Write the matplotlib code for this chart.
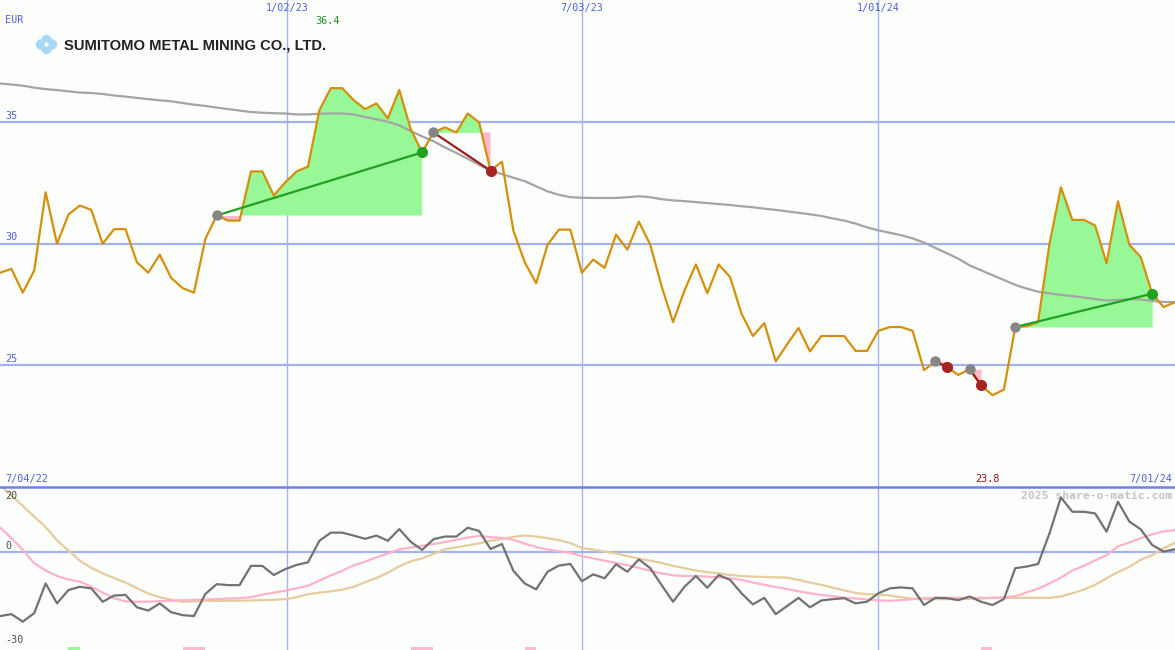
import numpy as np
import pandas as pd
import matplotlib
matplotlib.use("Agg")
import matplotlib.pyplot as plt
import matplotlib.transforms as mtransforms
from matplotlib.patches import Circle, Rectangle

# ---------------- data (weekly) ----------------
price = [28.80, 28.96, 27.98, 28.89, 32.10, 29.99, 31.19, 31.56, 31.38, 29.99,
         30.59, 30.59, 29.23, 28.80, 29.54, 28.59, 28.17, 27.98, 30.19, 31.15,
         30.94, 30.94, 32.96, 32.96, 31.97, 32.51, 32.96, 33.16, 35.48, 36.38,
         36.38, 35.89, 35.52, 35.75, 35.14, 36.31, 34.70, 33.74, 34.56, 34.77,
         34.56, 35.34, 34.97, 32.99, 33.36, 30.53, 29.23, 28.37, 29.95, 30.57,
         30.57, 28.80, 29.34, 29.00, 30.36, 29.75, 30.90, 29.95, 28.24, 26.77,
         28.07, 29.14, 27.96, 29.14, 28.62, 27.12, 26.20, 26.73, 25.16, 25.86,
         26.53, 25.57, 26.20, 26.20, 26.20, 25.59, 25.59, 26.41, 26.57, 26.57,
         26.41, 24.80, 25.16, 24.93, 24.60, 24.84, 24.18, 23.77, 24.00, 26.57,
         26.60, 26.77, 29.99, 32.31, 30.97, 30.97, 30.74, 29.19, 31.73, 29.95,
         29.44, 27.94, 27.39, 27.59]

moving_avg = [36.57, 36.53, 36.48, 36.40, 36.34, 36.30, 36.25, 36.20, 36.18, 36.14,
              36.08, 36.03, 35.98, 35.93, 35.88, 35.84, 35.77, 35.70, 35.65, 35.58,
              35.52, 35.46, 35.40, 35.37, 35.35, 35.34, 35.30, 35.30, 35.33, 35.34,
              35.34, 35.30, 35.20, 35.10, 35.00, 34.85, 34.62, 34.40, 34.20, 33.95,
              33.72, 33.48, 33.23, 32.99, 32.85, 32.70, 32.56, 32.35, 32.14, 32.00,
              31.90, 31.88, 31.87, 31.87, 31.87, 31.90, 31.94, 31.90, 31.82, 31.77,
              31.74, 31.70, 31.66, 31.62, 31.58, 31.53, 31.49, 31.43, 31.38, 31.32,
              31.26, 31.20, 31.13, 31.03, 30.94, 30.82, 30.66, 30.54, 30.44, 30.34,
              30.21, 30.04, 29.82, 29.60, 29.38, 29.10, 28.90, 28.70, 28.50, 28.30,
              28.15, 28.02, 27.95, 27.89, 27.84, 27.78, 27.72, 27.66, 27.68, 27.72,
              27.70, 27.64, 27.60, 27.59]

oscillator = [-19.6, -19.0, -21.3, -18.7, -9.6, -15.7, -11.6, -10.6, -11.1, -15.2,
              -13.3, -13.1, -16.9, -17.9, -15.7, -18.4, -19.3, -19.6, -12.8, -9.8,
              -10.1, -10.1, -4.2, -4.2, -7.0, -5.2, -3.9, -3.1, 3.5, 6.0,
              6.0, 5.1, 4.1, 5.1, 3.5, 7.1, 3.2, 0.7, 4.0, 4.8,
              4.8, 7.5, 6.5, 1.0, 2.5, -5.7, -9.6, -11.4, -6.0, -4.1,
              -3.6, -8.9, -6.8, -8.0, -3.7, -6.0, -2.2, -4.9, -10.1, -15.2,
              -10.6, -7.3, -10.9, -7.0, -8.5, -12.6, -16.0, -14.0, -19.0, -16.5,
              -14.0, -16.9, -14.8, -14.4, -14.1, -15.7, -15.2, -12.6, -11.1, -10.8,
              -11.1, -16.2, -14.0, -14.1, -14.7, -13.6, -15.2, -16.2, -14.4, -4.9,
              -4.4, -3.6, 5.8, 16.8, 12.4, 12.4, 11.9, 6.3, 15.5, 9.4,
              7.0, 2.2, 0.2, 0.9]

osc_fast = [7.6, 4.3, 0.7, -3.4, -5.6, -7.3, -8.4, -9.0, -10.6, -12.4,
            -14.1, -15.1, -15.2, -15.2, -15.0, -14.9, -14.7, -14.6, -14.5, -14.4,
            -14.2, -14.1, -13.8, -13.0, -12.4, -11.8, -11.1, -10.3, -8.7, -7.1,
            -5.7, -4.0, -2.9, -1.6, -0.4, 0.9, 1.4, 2.0, 2.5, 3.1,
            3.8, 4.5, 5.0, 4.6, 4.4, 3.8, 2.6, 1.6, 0.8, 0.3,
            -0.2, -1.2, -1.9, -2.6, -3.3, -4.0, -4.8, -5.7, -6.5, -7.1,
            -7.3, -7.3, -7.5, -7.7, -8.0, -8.5, -9.3, -10.0, -10.7, -11.3,
            -12.0, -12.6, -13.1, -13.5, -13.9, -14.2, -14.5, -14.8, -14.9, -14.7,
            -14.4, -14.1, -14.0, -14.0, -14.0, -14.0, -14.0, -14.0, -13.9, -13.5,
            -12.3, -11.2, -9.6, -7.8, -5.6, -4.2, -2.5, -0.9, 1.8, 3.0,
            4.3, 5.5, 6.4, 6.8]

osc_slow = [20.5, 17.4, 14.2, 10.9, 7.7, 3.6, 0.5, -2.6, -4.8, -6.5,
            -7.9, -9.3, -11.0, -12.7, -13.8, -14.6, -15.2, -15.1, -14.9, -14.9,
            -14.9, -14.9, -14.8, -14.7, -14.6, -14.4, -13.8, -12.9, -12.4, -12.0,
            -11.5, -10.6, -9.2, -7.9, -6.3, -4.3, -2.8, -1.9, -0.5, 0.9,
            1.5, 2.1, 2.7, 3.5, 4.1, 4.7, 5.1, 4.8, 4.3, 3.7,
            2.8, 1.3, 0.8, 0.2, -0.4, -1.2, -2.0, -2.6, -3.3, -4.2,
            -4.9, -5.6, -6.1, -6.5, -7.0, -7.3, -7.5, -7.6, -7.7, -7.8,
            -8.5, -9.3, -10.0, -10.9, -11.7, -12.5, -12.9, -13.0, -13.3, -13.8,
            -14.3, -14.4, -14.4, -14.4, -14.4, -14.3, -14.2, -14.0, -14.0, -14.0,
            -14.0, -14.0, -14.0, -13.6, -12.6, -11.5, -10.0, -8.0, -6.1, -4.5,
            -2.3, -0.9, 1.2, 2.9]

buy_idx = [19, 38, 82, 85, 89]
sell_idx = [37, 43, 83, 86, 101]

signal_spans = [(6, 7, 'buy'), (16, 18, 'sell'), (36, 38, 'sell'), (46, 47, 'sell'), (86, 87, 'sell')]

grid_dates = ['2023-01-03', '2023-07-03', '2024-01-01']
grid_labels = ['1/02/23', '7/03/23', '1/01/24']
start_label, end_label = '7/04/22', '7/01/24'
price_ticks = [25, 30, 35]
osc_ticks = [20, 0, -30]
currency = 'EUR'
title = 'SUMITOMO METAL MINING CO., LTD.'
credit = '2025 share-o-matic.com'

dates = pd.date_range('2022-07-11', periods=len(price), freq='7D')

# ---------------- style ----------------
W, H = 1175, 650
BG = '#fcfefc'
GRID = '#a4b2f2'
SEP = '#7080e8'
LBL = '#5060e0'
PRICE_C = '#d4900a'
MA_C = '#a4a4a4'
FILL_G = '#98f898'
FILL_P = '#ffb8cc'
mono = 'DejaVu Sans Mono'

fig = plt.figure(figsize=(W / 100, H / 100), dpi=100, facecolor=BG)
ax = fig.add_axes([0, 163 / H, 1, 487 / H], facecolor=BG)
ax2 = fig.add_axes([0, 0, 1, 163 / H], facecolor=BG)
for a in (ax, ax2):
    a.set_xlim(dates[0], dates[-1])
    for s in a.spines.values():
        s.set_visible(False)
    a.set_xticks([])
    a.set_yticks([])
ax.set_ylim(20, 40)
ax2.set_ylim(-30, 20)

# grid
for t in price_ticks:
    ax.axhline(t, color=GRID, lw=1.6, zorder=1)
ax2.axhline(0, color=GRID, lw=1.6, zorder=1)
gd = pd.to_datetime(grid_dates)
for d in gd:
    ax.axvline(d, color=GRID, lw=1.0, zorder=1)
    ax2.axvline(d, color=GRID, lw=1.0, zorder=1)
ax2.axhline(20, color=SEP, lw=1.8, zorder=5, clip_on=False)

p = np.array(price)
# trade fills
for b, s in zip(buy_idx, sell_idx):
    xs = dates[b:s + 1]
    ys = p[b:s + 1]
    lvl = p[b]
    ax.fill_between(xs, ys, lvl, where=ys >= lvl, interpolate=True, color=FILL_G, lw=0, zorder=2)
    ax.fill_between(xs, ys, lvl, where=ys <= lvl, interpolate=True, color=FILL_P, lw=0, zorder=2)

ax.plot(dates, moving_avg, color=MA_C, lw=1.6, zorder=3)
ax.plot(dates, price, color=PRICE_C, lw=1.6, zorder=4)

for b, s in zip(buy_idx, sell_idx):
    win = p[s] > p[b]
    c = '#22a022' if win else '#a01c1c'
    ax.plot([dates[b], dates[s]], [p[b], p[s]], color=c, lw=1.6, zorder=5)
    ax.plot(dates[b], p[b], 'o', ms=7.5, color='#858585', mec='none', zorder=6)
    ax.plot(dates[s], p[s], 'o', ms=8, color=('#22a022' if win else '#a82222'), mec='none', zorder=6)

# lower panel
ax2.plot(dates, osc_slow, color='#e4cc9c', lw=1.6, zorder=3)
ax2.plot(dates, osc_fast, color='#ffb2c8', lw=1.6, zorder=3)
ax2.plot(dates, oscillator, color='#727272', lw=1.6, zorder=4)
for a0, a1, kind in signal_spans:
    ax2.fill_between([dates[a0], dates[a1]], -30, -29.1,
                     color=('#98f898' if kind == 'buy' else '#ffb8cc'), lw=0, zorder=2)

# labels
tr_top = mtransforms.blended_transform_factory(ax.transData, ax.transAxes)
for d, lab in zip(gd, grid_labels):
    ax.text(d, 1 - 8 / 487, lab, transform=tr_top, ha='center', va='center',
            fontsize=7.3, family=mono, color=LBL)
tr_y = mtransforms.blended_transform_factory(ax.transAxes, ax.transData)
for t in price_ticks:
    ax.text(5 / W, t + 0.05, str(t), transform=tr_y, ha='left', va='bottom',
            fontsize=7.3, family=mono, color=LBL)
ax.text(5 / W, 1 - 20 / 487, currency, transform=ax.transAxes, ha='left', va='center',
        fontsize=7.3, family=mono, color=LBL)
imax = int(np.argmax(p))
imin = int(np.argmin(p))
ax.text(dates[imax] - pd.Timedelta(days=2), 1 - 21 / 487, f'{p[imax]:.1f}', transform=tr_top,
        ha='center', va='center', fontsize=7.3, family=mono, color='#209020')
ax.text(dates[imin] - pd.Timedelta(days=3), 8 / 487, f'{p[imin]:.1f}', transform=tr_top,
        ha='center', va='center', fontsize=7.3, family=mono, color='#a01010')
ax.text(5 / W, 8 / 487, start_label, transform=ax.transAxes, ha='left', va='center',
        fontsize=7.3, family=mono, color=LBL)
ax.text(1 - 3 / W, 8 / 487, end_label, transform=ax.transAxes, ha='right', va='center',
        fontsize=7.3, family=mono, color=LBL)

osc_lbl_y = {20: (650 - 496) / 163, 0: (650 - 546) / 163, -30: (650 - 640) / 163}
for t in osc_ticks:
    ax2.text(5 / W, osc_lbl_y[t], str(t), transform=ax2.transAxes, ha='left', va='center',
             fontsize=7.3, family=mono, color='#505050')
ax2.text(1 - 3 / W, (650 - 496) / 163, credit, transform=ax2.transAxes, ha='right', va='center',
         fontsize=8.2, family=mono, fontweight='bold', color='#c4c4c4')

# title + logo
fig.text(64 / W, 1 - 45 / H, title, ha='left', va='center', fontsize=10.6,
         family='Liberation Sans', fontweight='bold', color='#222222')
logo_c = '#a8d8f8'
cx, cy = 46.5, 44.5
px = fig.dpi_scale_trans  # inches; 100 px per inch
for dx, dy in [(-5.5, 0), (5.5, 0), (0, -4.5), (0, 4.5)]:
    fig.patches.append(Circle(((cx + dx) / 100, (H - cy - dy) / 100), 5.2 / 100,
                              transform=px, color=logo_c, lw=0))
fig.patches.append(Circle((cx / 100, (H - cy) / 100), 2.2 / 100,
                          transform=px, color='white', lw=0))

fig.savefig('out.png', dpi=100, facecolor=BG)
